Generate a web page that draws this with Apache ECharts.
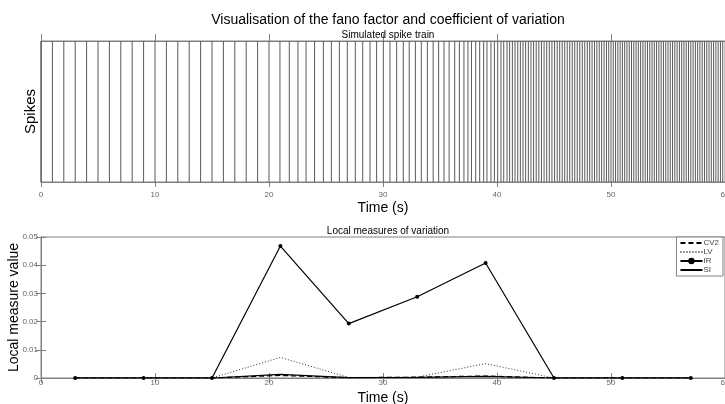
<!DOCTYPE html>
<html>
<head>
<meta charset="utf-8">
<script src="https://cdn.jsdelivr.net/npm/echarts@6/dist/echarts.min.js"></script>
<style>html,body{margin:0;padding:0;background:#fff}#c{width:725px;height:404px}</style>
</head>
<body>
<div id="c"></div>
<script>
// Spike times (s) read from the raster
const spikeTimes = [
  0,1,2,3,4,5,6,7,8,9,10,11,12,13,14,15,16,17,18,19,20,
  20.96,21.78,22.54,23.25,24.0,24.77,25.47,26.17,26.87,27.57,28.22,28.86,29.44,30.03,
  30.61,31.2,31.78,32.3,32.84,33.36,33.89,34.4,34.88,35.35,35.8,36.29,36.7,37.1,
  37.45,37.76,38.13,38.48,38.83,39.12,39.47,39.77,40.06,40.35,40.59,40.88,41.11,41.35,
  41.58,41.82,42.05,42.28,42.51,42.75,42.98,43.21,43.44,43.67,43.9,44.13,44.36,44.59,
  44.82,45.05,45.28,45.5,45.72,45.94,46.16,46.38,46.6,46.82,47.04,47.26,47.48,47.7,
  47.92,48.13,48.34,48.55,48.76,48.97,49.18,49.39,49.6,49.8,50.0,50.2,50.4,50.6,50.8,
  51.0,51.2,51.4,51.6,51.8,52.0,52.2,52.4,52.6,52.8,53.0,53.2,53.4,53.6,53.8,54.0,54.2,
  54.4,54.6,54.8,55.0,55.2,55.4,55.6,55.8,56.0,56.2,56.4,56.6,56.8,57.0,57.2,57.4,57.6,
  57.8,58.0,58.2,58.4,58.6,58.8,59.0,59.2,59.4,59.6,59.8
];
// Window centres (s)
const windowTimes = [3,9,15,21,27,33,39,45,51,57];
const cv2 = [0,0,0,0.0009,0.0001,0.0003,0.0007,0,0,0];
const lv  = [0,0,0,0.0073,0.0002,0.0003,0.0051,0,0,0];
const ir  = [0,0,0,0.0468,0.0193,0.0288,0.0408,0,0,0];
const si  = [0,0,0,0.0013,0.0001,0.0002,0.0006,0,0,0];
const legendNames = ['CV2','LV','IR','SI'];

const FONT = '"Liberation Sans", Arial, sans-serif';
const AX = '#808080';
const pairs = arr => windowTimes.map((t,i)=>[t,arr[i]]);

const chart = echarts.init(document.getElementById('c'), null, {renderer:'canvas'});
const tickLabel = {fontSize:8, color:'#666', fontFamily:FONT};

chart.setOption({
  animation:false,
  backgroundColor:'#fff',
  title:[
    {text:'Visualisation of the fano factor and coefficient of variation', left:383, top:8, textAlign:'center',
     textStyle:{fontSize:14, fontWeight:'normal', color:'#000', fontFamily:FONT}},
    {text:'Simulated spike train', left:383, top:25, textAlign:'center',
     textStyle:{fontSize:10, fontWeight:'normal', color:'#000', fontFamily:FONT}},
    {text:'Local measures of variation', left:383, top:221, textAlign:'center',
     textStyle:{fontSize:10, fontWeight:'normal', color:'#000', fontFamily:FONT}}
  ],
  legend:{
    orient:'vertical', right:2, top:237, itemGap:1, itemWidth:22, itemHeight:8,
    padding:[2,4,2,3], borderColor:AX, borderWidth:1, backgroundColor:'#fff',
    textStyle:{fontSize:8, color:'#444', fontFamily:FONT, padding:[0,0,0,-4]},
    data:legendNames.map(n => n === 'IR'
      ? {name:n, itemStyle:{opacity:1}}
      : {name:n, itemStyle:{opacity:0}})
  },
  grid:[
    {left:41, right:0, top:41, height:141, show:true, borderColor:AX, borderWidth:1, outerBoundsMode:'none', containLabel:false},
    {left:41, right:0, top:237, height:141, show:true, borderColor:AX, borderWidth:1, outerBoundsMode:'none', containLabel:false}
  ],
  xAxis:[
    {gridIndex:0, type:'value', min:0, max:60, interval:10, position:'bottom',
     name:'Time (s)', nameLocation:'middle', nameGap:19, nameMoveOverlap:false,
     nameTextStyle:{fontSize:14, color:'#000', fontFamily:FONT},
     axisLine:{lineStyle:{color:AX}}, axisTick:{inside:false, length:5, lineStyle:{color:AX}},
     axisLabel:Object.assign({margin:9}, tickLabel), splitLine:{show:false}},
    {gridIndex:0, type:'value', min:0, max:60, interval:10, position:'top',
     axisLine:{lineStyle:{color:AX}}, axisTick:{inside:false, length:7, lineStyle:{color:AX}},
     axisLabel:{show:false}, splitLine:{show:false}},
    {gridIndex:1, type:'value', min:0, max:60, interval:10, position:'bottom',
     name:'Time (s)', nameLocation:'middle', nameGap:13, nameMoveOverlap:false,
     nameTextStyle:{fontSize:14, color:'#000', fontFamily:FONT},
     axisLine:{lineStyle:{color:AX}}, axisTick:{inside:true, length:5, lineStyle:{color:AX}},
     axisLabel:Object.assign({margin:1}, tickLabel), splitLine:{show:false}},
    {gridIndex:1, type:'value', min:0, max:60, interval:10, position:'top',
     axisLine:{lineStyle:{color:AX}}, axisTick:{inside:true, length:5, lineStyle:{color:AX}},
     axisLabel:{show:false}, splitLine:{show:false}}
  ],
  yAxis:[
    {gridIndex:0, type:'value', min:0, max:1,
     name:'Spikes', nameLocation:'middle', nameGap:3, nameRotate:90, nameMoveOverlap:false,
     nameTextStyle:{fontSize:15, color:'#000', fontFamily:FONT},
     axisLine:{show:true, lineStyle:{color:AX}}, axisTick:{show:false}, axisLabel:{show:false}, splitLine:{show:false}},
    {gridIndex:1, type:'value', min:0, max:0.05, interval:0.01,
     name:'Local measure value', nameLocation:'middle', nameGap:20, nameRotate:90, nameMoveOverlap:false,
     nameTextStyle:{fontSize:14, color:'#000', fontFamily:FONT},
     axisLine:{show:true, lineStyle:{color:AX}}, axisTick:{inside:true, length:5, lineStyle:{color:AX}},
     axisLabel:Object.assign({margin:3, formatter:v=>String(+v.toFixed(2))}, tickLabel), splitLine:{show:false}},
    {gridIndex:1, type:'value', min:0, max:0.05, interval:0.01, position:'right',
     axisLine:{show:true, lineStyle:{color:AX}}, axisTick:{inside:true, length:5, lineStyle:{color:AX}},
     axisLabel:{show:false}, splitLine:{show:false}}
  ],
  series:[
    {type:'custom', xAxisIndex:0, yAxisIndex:0, data:spikeTimes.map(t=>[t]),
     renderItem:(params, api)=>{
       const t = api.value(0);
       const a = api.coord([t,0]), b = api.coord([t,1]);
       return {type:'line', shape:{x1:a[0], y1:a[1], x2:b[0], y2:b[1]},
               style:{stroke:'#5a5a5a', lineWidth:1}};
     }},
    {name:'CV2', type:'line', xAxisIndex:2, yAxisIndex:1, data:pairs(cv2), symbol:'none',
     lineStyle:{color:'#000', width:1.2, type:[5,3]}, itemStyle:{color:'#000'}},
    {name:'LV', type:'line', xAxisIndex:2, yAxisIndex:1, data:pairs(lv), symbol:'none',
     lineStyle:{color:'#333', width:1, type:[1,2]}, itemStyle:{color:'#333'}},
    {name:'IR', type:'line', xAxisIndex:2, yAxisIndex:1, data:pairs(ir), symbol:'circle', symbolSize:4,
     lineStyle:{color:'#000', width:1.2}, itemStyle:{color:'#000'}},
    {name:'SI', type:'line', xAxisIndex:2, yAxisIndex:1, data:pairs(si), symbol:'none',
     lineStyle:{color:'#000', width:1.2}, itemStyle:{color:'#000'}}
  ]
});
</script>
</body>
</html>
